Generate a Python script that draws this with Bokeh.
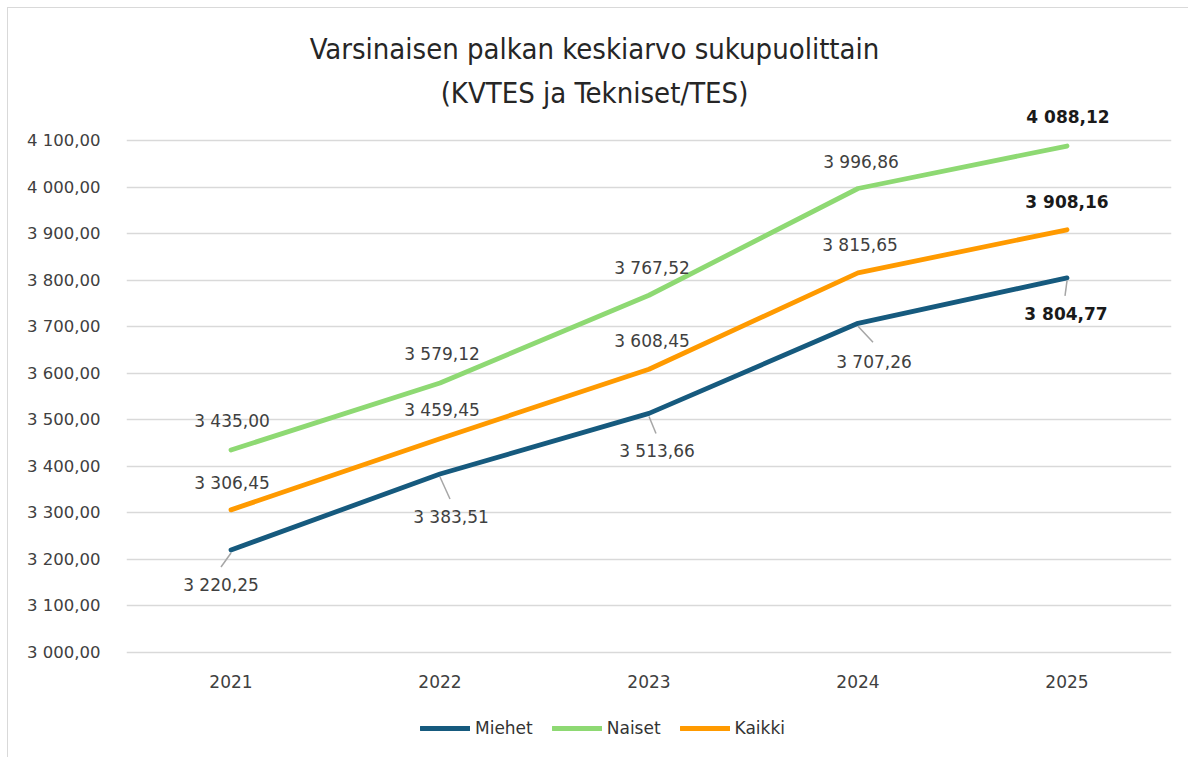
from bokeh.plotting import figure
from bokeh.models import (ColumnDataSource, Range1d, FactorRange, Legend, LegendItem, Label)
from bokeh.core.properties import value
from bokeh.embed import file_html
from bokeh.resources import INLINE

# ---- data ----
years = ["2021", "2022", "2023", "2024", "2025"]
miehet = [3220.25, 3383.51, 3513.66, 3707.26, 3804.77]
naiset = [3435.00, 3579.12, 3767.52, 3996.86, 4088.12]
kaikki = [3306.45, 3459.45, 3608.45, 3815.65, 3908.16]
series_names = ["Miehet", "Naiset", "Kaikki"]
y_ticks = [3000, 3100, 3200, 3300, 3400, 3500, 3600, 3700, 3800, 3900, 4000, 4100]
title_1 = "Varsinaisen palkan keskiarvo sukupuolittain"
title_2 = "(KVTES ja Tekniset/TES)"

# ---- styles / layout (page pixels) ----
colors = {"Miehet": "#165A7E", "Naiset": "#8ED973", "Kaikki": "#FF9A00"}
FONT = "DejaVu Sans"
TITLE_FONT = "Liberation Sans Narrow, DejaVu Sans Condensed, Roboto"
ORIG_X, ORIG_Y = 8, 8                # figure content origin on the page
W, H = 1181, 750
PLOT_L, PLOT_R = 126, 1171           # plot area (gridlines) left/right
PLOT_T, PLOT_B = 140, 652            # y of top tick / bottom tick
Y0, Y1 = 3000, 4100
ML = PLOT_L - ORIG_X
MR = ORIG_X + W - PLOT_R
px_x = (PLOT_R - PLOT_L) / len(years)
px_y = (PLOT_B - PLOT_T) / (Y1 - Y0)
y_top = Y1 + (PLOT_T - ORIG_Y) / px_y
y_bot = Y0 - (ORIG_Y + H - PLOT_B) / px_y

# label offsets in px (dx right, dy down)
lab_off = {
    "Naiset": [(1, -29), (2, -29), (3, -27), (3, -27), (1, -29)],
    "Kaikki": [(1, -27), (2, -29), (3, -28), (2, -28), (0, -28)],
    "Miehet": [(-10, 35), (11, 43), (8, 38), (16, 39), (-1, 36)],
}
lead_off = [(-10, 17), (10, 25), (7, 20), (15, 19), (-2, 18)]


def fmt(v):
    return f"{v:,.2f}".replace(",", " ").replace(".", ",")


p = figure(width=W, height=H, x_range=FactorRange(*years), y_range=Range1d(y_bot, y_top),
           output_backend="svg", toolbar_location=None,
           min_border_left=ML, min_border_right=MR, min_border_top=0, min_border_bottom=0)
p.outline_line_color = None
p.background_fill_color = "white"
p.border_fill_color = "white"
p.styles = {"margin-left": "7px", "margin-top": "7px",
            "border-left": "1px solid #d9d9d9", "border-top": "1px solid #d9d9d9"}

p.xgrid.grid_line_color = None
p.ygrid.grid_line_color = "#D9D9D9"
p.ygrid.grid_line_width = 1.3

p.yaxis.ticker = y_ticks
p.yaxis.bounds = (Y0, Y1)
p.yaxis.major_label_overrides = {t: fmt(t) for t in y_ticks}
p.xaxis.fixed_location = Y0
for ax in (p.xaxis[0], p.yaxis[0]):
    ax.axis_line_color = None
    ax.major_tick_line_color = None
    ax.minor_tick_line_color = None
    ax.major_tick_out = 0
    ax.major_tick_in = 0
    ax.major_label_text_font = FONT
    ax.major_label_text_color = "#404040"
p.yaxis.major_label_text_font_size = "16.5px"
p.xaxis.major_label_text_font_size = "17px"
p.yaxis.major_label_standoff = 26
p.xaxis.major_label_standoff = 22

data = {"Miehet": miehet, "Naiset": naiset, "Kaikki": kaikki}
renderers = {}
for name in series_names:
    r = p.line(x=years, y=data[name], line_color=colors[name], line_width=4.8,
               line_cap="round", line_join="round")
    renderers[name] = r

# leader lines for Miehet
xs0, ys0, xs1, ys1 = [], [], [], []
for i, v in enumerate(miehet):
    dx, dy = lead_off[i]
    xs0.append(i + 0.5)
    ys0.append(v - 3 / px_y)
    xs1.append(i + 0.5 + dx / px_x)
    ys1.append(v - dy / px_y)
p.segment(x0=xs0, y0=ys0, x1=xs1, y1=ys1, line_color="#A6A6A6", line_width=1.5)

# data labels
for name in ["Naiset", "Kaikki", "Miehet"]:
    vals = data[name]
    lx, ly, txt, weights, cols = [], [], [], [], []
    for i, v in enumerate(vals):
        dx, dy = lab_off[name][i]
        lx.append(i + 0.5 + dx / px_x)
        ly.append(v - dy / px_y)
        txt.append(fmt(v))
        last = i == len(vals) - 1
        weights.append("bold" if last else "normal")
        cols.append("#1A1A1A" if last else "#404040")
    src = ColumnDataSource(dict(x=lx, y=ly, text=txt, w=weights, c=cols))
    p.text(x="x", y="y", text="text", source=src, text_font=value(FONT),
           text_font_size="17px", text_font_style="w", text_color="c",
           text_align="center", text_baseline="middle")

# titles (centered on the page)
tx = (594 - PLOT_L) / px_x
for txt, ypage in ((title_1, 48), (title_2, 92)):
    p.add_layout(Label(x=tx, y=Y1 + (PLOT_T - ypage) / px_y, text=txt,
                       text_font=TITLE_FONT, text_font_size="29px",
                       text_color="#262626", text_align="center", text_baseline="middle"))

legend = Legend(items=[LegendItem(label=n, renderers=[renderers[n]]) for n in series_names],
                orientation="horizontal", location=(420 - PLOT_L, ORIG_Y + H - 738),
                glyph_width=50, glyph_height=20, label_standoff=5, spacing=19,
                padding=0, margin=0, border_line_color=None, background_fill_alpha=0,
                label_text_font=FONT, label_text_font_size="17px", label_text_color="#333333")
p.add_layout(legend, "center")

open("out.html", "w").write(file_html(p, INLINE))
